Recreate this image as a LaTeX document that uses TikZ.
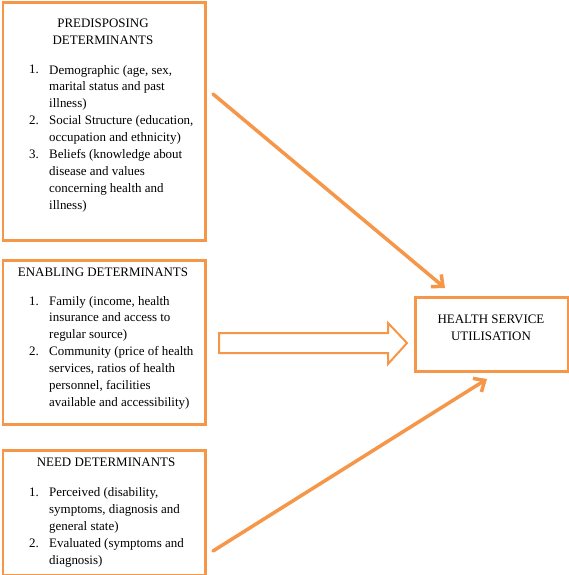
\documentclass[tikz,border=0pt]{standalone}
\usepackage{fontspec}
\setmainfont{Liberation Serif}
\usetikzlibrary{arrows.meta}
\definecolor{orng}{RGB}{245,150,72}
\begin{document}
\begin{tikzpicture}[x=1bp,y=-1bp,
  box/.style={draw=orng,line width=2.5bp,fill=white,inner sep=0pt,anchor=north west},
  hd/.style={inner sep=0pt,font=\fontsize{13}{16.9}\selectfont,align=center},
  itm/.style={inner sep=0pt,font=\fontsize{13}{16.9}\selectfont,align=left,anchor=base west},
  conn/.style={draw=orng,line width=3.5bp,line cap=round,-{Straight Barb[length=9bp,width=16bp,line width=3.5bp]}}]
\useasboundingbox (0,0) rectangle (569,575);
% boxes
\node[box,minimum width=202.5bp,minimum height=237.5bp] (pred) at (1.5,1.5) {};
\node[box,minimum width=202.5bp,minimum height=164bp] (enab) at (1.5,259) {};
\node[box,minimum width=202.5bp,minimum height=124.5bp] (need) at (1.5,449) {};
\node[box,minimum width=153bp,minimum height=74bp] (hsu) at (414,296) {};
% predisposing text (base anchor = last line baseline)
\node[hd,anchor=base] (predh) at (103,44.6) {PREDISPOSING\\DETERMINANTS};
\node[itm] (p1n) at (29,74) {1.};
\node[itm] (p1) at (49,107.8) {Demographic (age, sex,\\marital status and past\\illness)};
\node[itm] (p2n) at (29,124.7) {2.};
\node[itm] (p2) at (49,141.6) {Social Structure (education,\\occupation and ethnicity)};
\node[itm] (p3n) at (29,158.5) {3.};
\node[itm] (p3) at (49,209.2) {Beliefs (knowledge about\\disease and values\\concerning health and\\illness)};
% enabling text
\node[hd,anchor=base] (enabh) at (103,276.7) {ENABLING DETERMINANTS};
\node[itm] (e1n) at (29,305) {1.};
\node[itm] (e1) at (49,338.8) {Family (income, health\\insurance and access to\\regular source)};
\node[itm] (e2n) at (29,355.7) {2.};
\node[itm] (e2) at (49,406.4) {Community (price of health\\services, ratios of health\\personnel, facilities\\available and accessibility)};
% need text
\node[hd,anchor=base] (needh) at (106,466.7) {NEED DETERMINANTS};
\node[itm] (n1n) at (29,496.7) {1.};
\node[itm] (n1) at (49,530.5) {Perceived (disability,\\symptoms, diagnosis and\\general state)};
\node[itm] (n2n) at (29,547.4) {2.};
\node[itm] (n2) at (49,564.3) {Evaluated (symptoms and\\diagnosis)};
% health service text
\node[hd,anchor=base] (hsuh) at (491,340.5) {HEALTH SERVICE\\UTILISATION};
% connectors
\coordinate (a1s) at (213,94);
\coordinate (a1e) at (445,288);
\coordinate (a3s) at (213,551);
\coordinate (a3e) at (487,379);
\draw[conn] (a1s) -- (a1e);
\draw[conn] (a3s) -- (a3e);
% block arrow
\coordinate (bs) at (219,343);
\coordinate (bt) at (407,343);
\draw[draw=orng,line width=2bp,fill=white,line join=miter]
  (219,333) -- (388,333) -- (388,323) -- (bt) -- (388,364) -- (388,353) -- (219,353) -- cycle;
\end{tikzpicture}
\end{document}
